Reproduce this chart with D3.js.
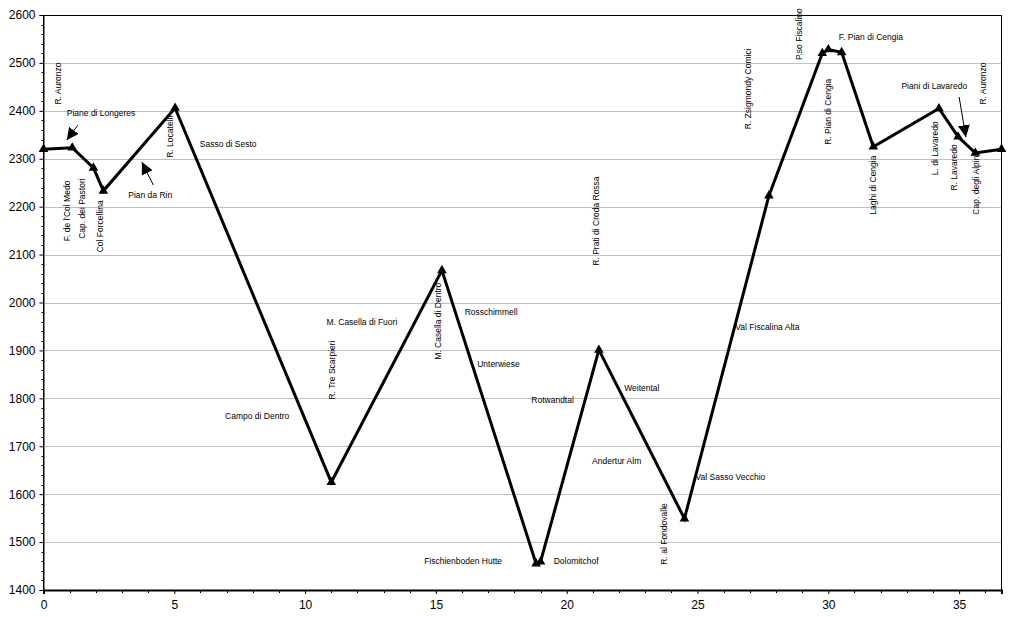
<!DOCTYPE html>
<html><head><meta charset="utf-8">
<script src="https://cdn.jsdelivr.net/npm/d3@7"></script>
<style>body{margin:0;background:#fff}svg{display:block}</style>
</head><body>
<svg id="c" width="1020" height="617"></svg>
<script>
// Elevation profile data (distance km, elevation m)
const distances = [0, 1.1, 1.91, 2.29, 5.03, 11.0, 15.23, 18.83, 19.0, 21.23, 24.5, 27.73, 29.77, 30.0, 30.51, 31.72, 34.23, 34.96, 35.62, 36.62];
const elevations = [2320, 2323, 2281, 2233, 2406, 1625, 2067, 1455, 1459, 1901, 1549, 2223, 2520, 2528, 2522, 2325, 2405, 2346, 2312, 2320];

const xTicks = [0, 5, 10, 15, 20, 25, 30, 35];
const yTicks = [1400, 1500, 1600, 1700, 1800, 1900, 2000, 2100, 2200, 2300, 2400, 2500, 2600];

// horizontal annotation labels (centre, in data units)
const hLabelText = ["Piane di Longeres", "Sasso di Sesto", "Pian da Rin", "M. Casella di Fuori", "Rosschimmell", "Unterwiese", "Rotwandtal", "Campo di Dentro", "Fischienboden Hutte", "Dolomitchof", "Andertur Alm", "Weitental", "Val Sasso Vecchio", "Val Fiscalina Alta", "F. Pian di Cengia", "Piani di Lavaredo"];
const hLabelX = [2.20, 7.06, 4.08, 12.17, 17.11, 17.39, 19.46, 8.17, 16.04, 20.36, 21.91, 22.87, 26.26, 27.67, 31.63, 34.05];
const hLabelY = [2395, 2331, 2224, 1959, 1980, 1871, 1796, 1763, 1460, 1460, 1669, 1821, 1635, 1949, 2554, 2452];

// vertical annotation labels (centre, in data units)
const vLabelText = ["R. Auronzo", "F. de l'Col Medo", "Cap. dei Pastori", "Col Forcellina", "R. Locatelli", "R. Tre Scarpieri", "M. Casella di Dentro", "R. Prati di Croda Rossa", "R. al Fondovalle", "R. Zsigmondy Comici", "P.so Fiscalino", "R. Pian di Cengia", "Laghi di Cengia", "L. di Lavaredo", "R. Lavaredo", "Cap. degli Alpini", "R. Auronzo"];
const vLabelX = [0.57, 0.89, 1.47, 2.17, 4.84, 11.02, 15.07, 21.12, 23.73, 26.94, 28.88, 30.0, 31.71, 34.06, 34.8, 35.63, 35.91];
const vLabelY = [2457, 2191, 2196, 2159, 2346, 1859, 1961, 2170, 1517, 2446, 2560, 2398, 2245, 2322, 2282, 2247, 2457];

// arrows (from -> tip, data units)
const arrowX1 = [1.31, 4.20, 35.0];
const arrowY1 = [2370, 2245, 2429];
const arrowX2 = [0.89, 3.76, 35.26];
const arrowY2 = [2339, 2293, 2345];

const svg = d3.select("#c");
const L = 43.5, R = 1001.5, T = 15, B = 590;
const x = d3.scaleLinear().domain([0, 36.62]).range([L, R]);
const y = d3.scaleLinear().domain([1400, 2600]).range([B, T]);
const font = "'Liberation Sans', Arial, sans-serif";

// gridlines
svg.append("g").selectAll("line").data(yTicks.slice(1, -1)).join("line")
  .attr("x1", L).attr("x2", R).attr("y1", d => Math.round(y(d)) + 0.5).attr("y2", d => Math.round(y(d)) + 0.5)
  .attr("stroke", "#c0c0c0").attr("stroke-width", 1);

// frame
svg.append("rect").attr("x", L).attr("y", T + 0.5).attr("width", R - L).attr("height", B - T)
  .attr("fill", "none").attr("stroke", "#000").attr("stroke-width", 1);

// y axis
const yAxis = d3.axisLeft(y).tickValues(yTicks).tickSize(4).tickFormat(d3.format("d"));
const gy = svg.append("g").attr("transform", `translate(${L},0)`).call(yAxis);
gy.select(".domain").attr("stroke", "#000");
gy.selectAll("text").attr("font-family", font).attr("font-size", 12).attr("fill", "#000").attr("dx", "-1");
const yMinor = d3.range(1400, 2601, 20).filter(v => v % 100 !== 0);
svg.append("g").selectAll("line").data(yMinor).join("line")
  .attr("x1", L - 2).attr("x2", L).attr("y1", d => Math.round(y(d)) + 0.5).attr("y2", d => Math.round(y(d)) + 0.5)
  .attr("stroke", "#000");

// x axis
const xAxis = d3.axisBottom(x).tickValues(xTicks).tickSize(4).tickPadding(6).tickFormat(d3.format("d"));
const gx = svg.append("g").attr("transform", `translate(0,${B})`).call(xAxis);
gx.select(".domain").attr("stroke", "#000").attr("stroke-width", 2);
gx.selectAll("text").attr("font-family", font).attr("font-size", 12).attr("fill", "#000");
const xMinor = d3.range(0, 37, 1).filter(v => v % 5 !== 0);
svg.append("g").selectAll("line").data(xMinor).join("line")
  .attr("x1", d => Math.round(x(d)) + 0.5).attr("x2", d => Math.round(x(d)) + 0.5)
  .attr("y1", B).attr("y2", B + 3).attr("stroke", "#000");

// profile line
const pts = distances.map((d, i) => [d, elevations[i]]);
svg.append("path").datum(pts)
  .attr("d", d3.line().x(d => x(d[0])).y(d => y(d[1])))
  .attr("fill", "none").attr("stroke", "#000").attr("stroke-width", 3).attr("stroke-linejoin", "miter");

// markers
svg.append("g").selectAll("path").data(pts).join("path")
  .attr("d", d3.symbol(d3.symbolTriangle, 40))
  .attr("transform", d => `translate(${x(d[0])},${y(d[1])})`)
  .attr("fill", "#000");

// horizontal labels
svg.append("g").selectAll("text").data(hLabelText).join("text")
  .attr("x", (d, i) => x(hLabelX[i])).attr("y", (d, i) => y(hLabelY[i]))
  .attr("text-anchor", "middle").attr("dominant-baseline", "central")
  .attr("font-family", font).attr("font-size", 8.5).attr("fill", "#000")
  .text(d => d);

// vertical labels
svg.append("g").selectAll("text").data(vLabelText).join("text")
  .attr("transform", (d, i) => `translate(${x(vLabelX[i])},${y(vLabelY[i])}) rotate(-90)`)
  .attr("text-anchor", "middle").attr("dominant-baseline", "central")
  .attr("font-family", font).attr("font-size", 8.5).attr("fill", "#000")
  .text(d => d);

// arrows
svg.append("defs").append("marker").attr("id", "ah")
  .attr("viewBox", "0 0 10 10").attr("refX", 10).attr("refY", 5)
  .attr("markerWidth", 12).attr("markerHeight", 12).attr("markerUnits", "userSpaceOnUse")
  .attr("orient", "auto")
  .append("path").attr("d", "M0,0 L10,5 L0,10 Z").attr("fill", "#000");
svg.append("g").selectAll("line").data(arrowX1).join("line")
  .attr("x1", (d, i) => x(arrowX1[i])).attr("y1", (d, i) => y(arrowY1[i]))
  .attr("x2", (d, i) => x(arrowX2[i])).attr("y2", (d, i) => y(arrowY2[i]))
  .attr("stroke", "#000").attr("stroke-width", 1).attr("marker-end", "url(#ah)");
</script>
</body></html>
